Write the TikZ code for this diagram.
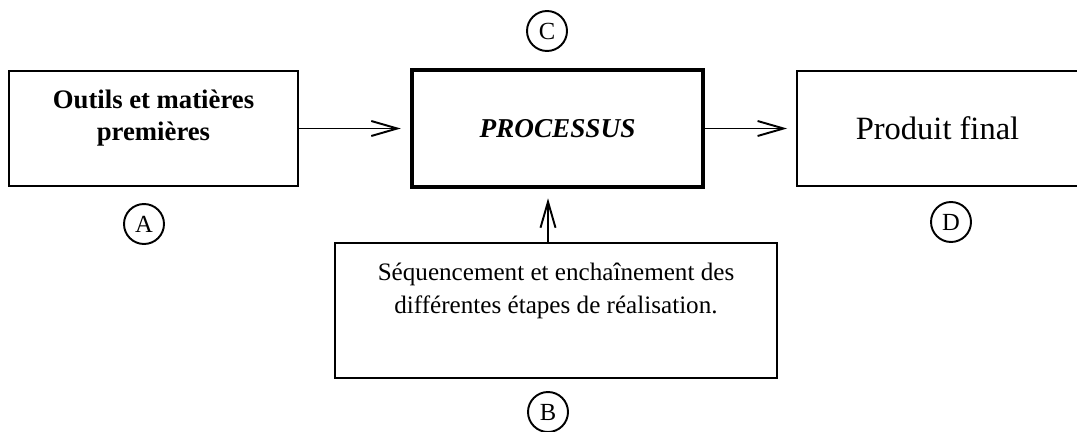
\documentclass[tikz,border=0pt]{standalone}
\usepackage{fontspec}
\setmainfont{Liberation Serif}
\usepackage{tikz}
\usetikzlibrary{shapes,arrows.meta,positioning}

\begin{document}
\begin{tikzpicture}[x=0.02cm,y=-0.02cm,line width=1pt,
    >={Straight Barb[length=0.52cm,width=0.3cm,line width=1.1pt]}]
    \tikzstyle{bloc}=[draw,rectangle,inner sep=0pt,line width=1.1pt]
    \tikzstyle{lettre}=[draw,circle,minimum size=0.8cm,inner sep=0pt,line width=1.1pt,font=\fontsize{14}{15}\selectfont]
    \tikzstyle{flow}=[->,shorten >=0.18cm,line width=1.1pt]

    \useasboundingbox (0,0) rectangle (1077,432);

    % the three boxes of the process line
    \node[bloc, minimum width=5.78cm, minimum height=2.3cm] (A) at (153.5,128.5) {};
    \node[bloc, line width=2.6pt, minimum width=5.82cm, minimum height=2.34cm] (P) at (557.5,128.5)
        {\fontsize{15.5}{18}\selectfont\bfseries\itshape PROCESSUS};
    \node[bloc, minimum width=5.62cm, minimum height=2.3cm] (D) at (937.5,128.5)
        {\fontsize{18.5}{20}\selectfont Produit final};

    % box of the sequencing
    \node[bloc, minimum width=8.84cm, minimum height=2.7cm] (B) at (556,310.5) {};

    % texts placed higher in their box
    \node[align=center, font=\fontsize{15.2}{18.7}\selectfont\bfseries] (At) at (153.5,118)
        {Outils et matières\\premières};
    \node[align=center, font=\fontsize{14.3}{19}\selectfont] (Bt) at (556,291)
        {Séquencement et enchaînement des\\différentes étapes de réalisation.};

    % letters
    \node[lettre] (cA) at (144,224) {A};
    \node[lettre] (cB) at (548,412) {B};
    \node[lettre] (cC) at (547,31) {C};
    \node[lettre] (cD) at (951,222) {D};

    % connections
    \draw[flow] (A) -- (P);
    \draw[flow] (P) -- (D);
    \draw[flow] (B.north -| cB) -- (P.south -| cB);

\end{tikzpicture}
\end{document}
